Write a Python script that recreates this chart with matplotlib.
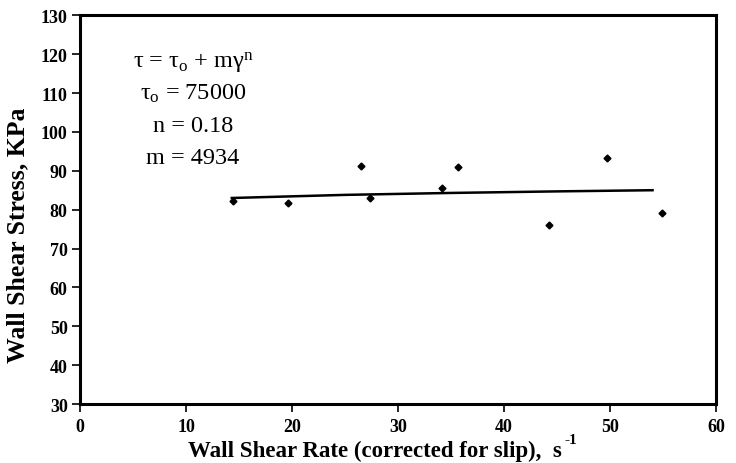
import numpy as np
import matplotlib
matplotlib.use("Agg")
import matplotlib.pyplot as plt

# datos
shear_rate = [14.4, 19.6, 26.5, 27.3, 34.1, 35.6, 44.2, 49.7, 54.9]
shear_stress = [82.3, 81.7, 91.1, 82.9, 85.5, 91.0, 76.0, 93.2, 79.1]

# curva de ajuste
fit_x = [14.3, 25.0, 35.0, 45.0, 54.0]
fit_y = [83.0, 83.8, 84.3, 84.7, 85.0]

xticks = [0, 10, 20, 30, 40, 50, 60]
yticks = [30, 40, 50, 60, 70, 80, 90, 100, 110, 120, 130]

plt.rcParams['font.family'] = ['Liberation Serif', 'DejaVu Serif']
plt.rcParams['mathtext.fontset'] = 'custom'
plt.rcParams['mathtext.rm'] = 'Liberation Serif'
plt.rcParams['mathtext.it'] = 'Liberation Serif:italic'
plt.rcParams['mathtext.bf'] = 'Liberation Serif:bold'

fig = plt.figure(figsize=(7.36, 4.64), dpi=100)
ax = fig.add_axes([0.109, 0.127, 0.864, 0.838])

ax.plot(fit_x, fit_y, color='black', lw=1.8)
ax.plot(shear_rate, shear_stress, 'D', color='black', markersize=3.5)

ax.set_xlim(0, 60)
ax.set_ylim(30, 130)
ax.set_xticks(xticks)
ax.set_yticks(yticks)
for lbl in ax.get_xticklabels() + ax.get_yticklabels():
    lbl.set_fontweight('bold')
    lbl.set_fontsize(13)

for s in ax.spines.values():
    s.set_linewidth(2.2)
ax.tick_params(direction='out', length=6, width=1.2, top=False, right=False, pad=3)
ax.tick_params(axis='x', pad=4)

ax.set_xlabel('Wall Shear Rate (corrected for slip),  s', fontsize=16.5,
              fontweight='bold')
ax.xaxis.set_label_coords(0.464, -0.093)
ax.annotate('-1', xy=(1.0, 0.72), xycoords=ax.xaxis.label, xytext=(1.5, 0),
            textcoords='offset points', fontsize=11, fontweight='bold',
            ha='left', va='bottom')

ax.set_ylabel('Wall Shear Stress, KPa', fontsize=18.5, fontweight='bold')
ax.yaxis.set_label_coords(-0.080, 0.437)

# ecuacion del modelo
eq = ['τ = τ$_{\\mathrm{o}}$ + mγ$^{\\mathrm{n}}$',
      'τ$_{\\mathrm{o}}$ = 75000',
      'n = 0.18',
      'm = 4934']
ypos = [0.88, 0.80, 0.716, 0.634]
for t, yy in zip(eq, ypos):
    ax.text(0.177, yy, t, transform=ax.transAxes, ha='center', va='center', fontsize=17.5)

fig.savefig('out.png', dpi=100)
